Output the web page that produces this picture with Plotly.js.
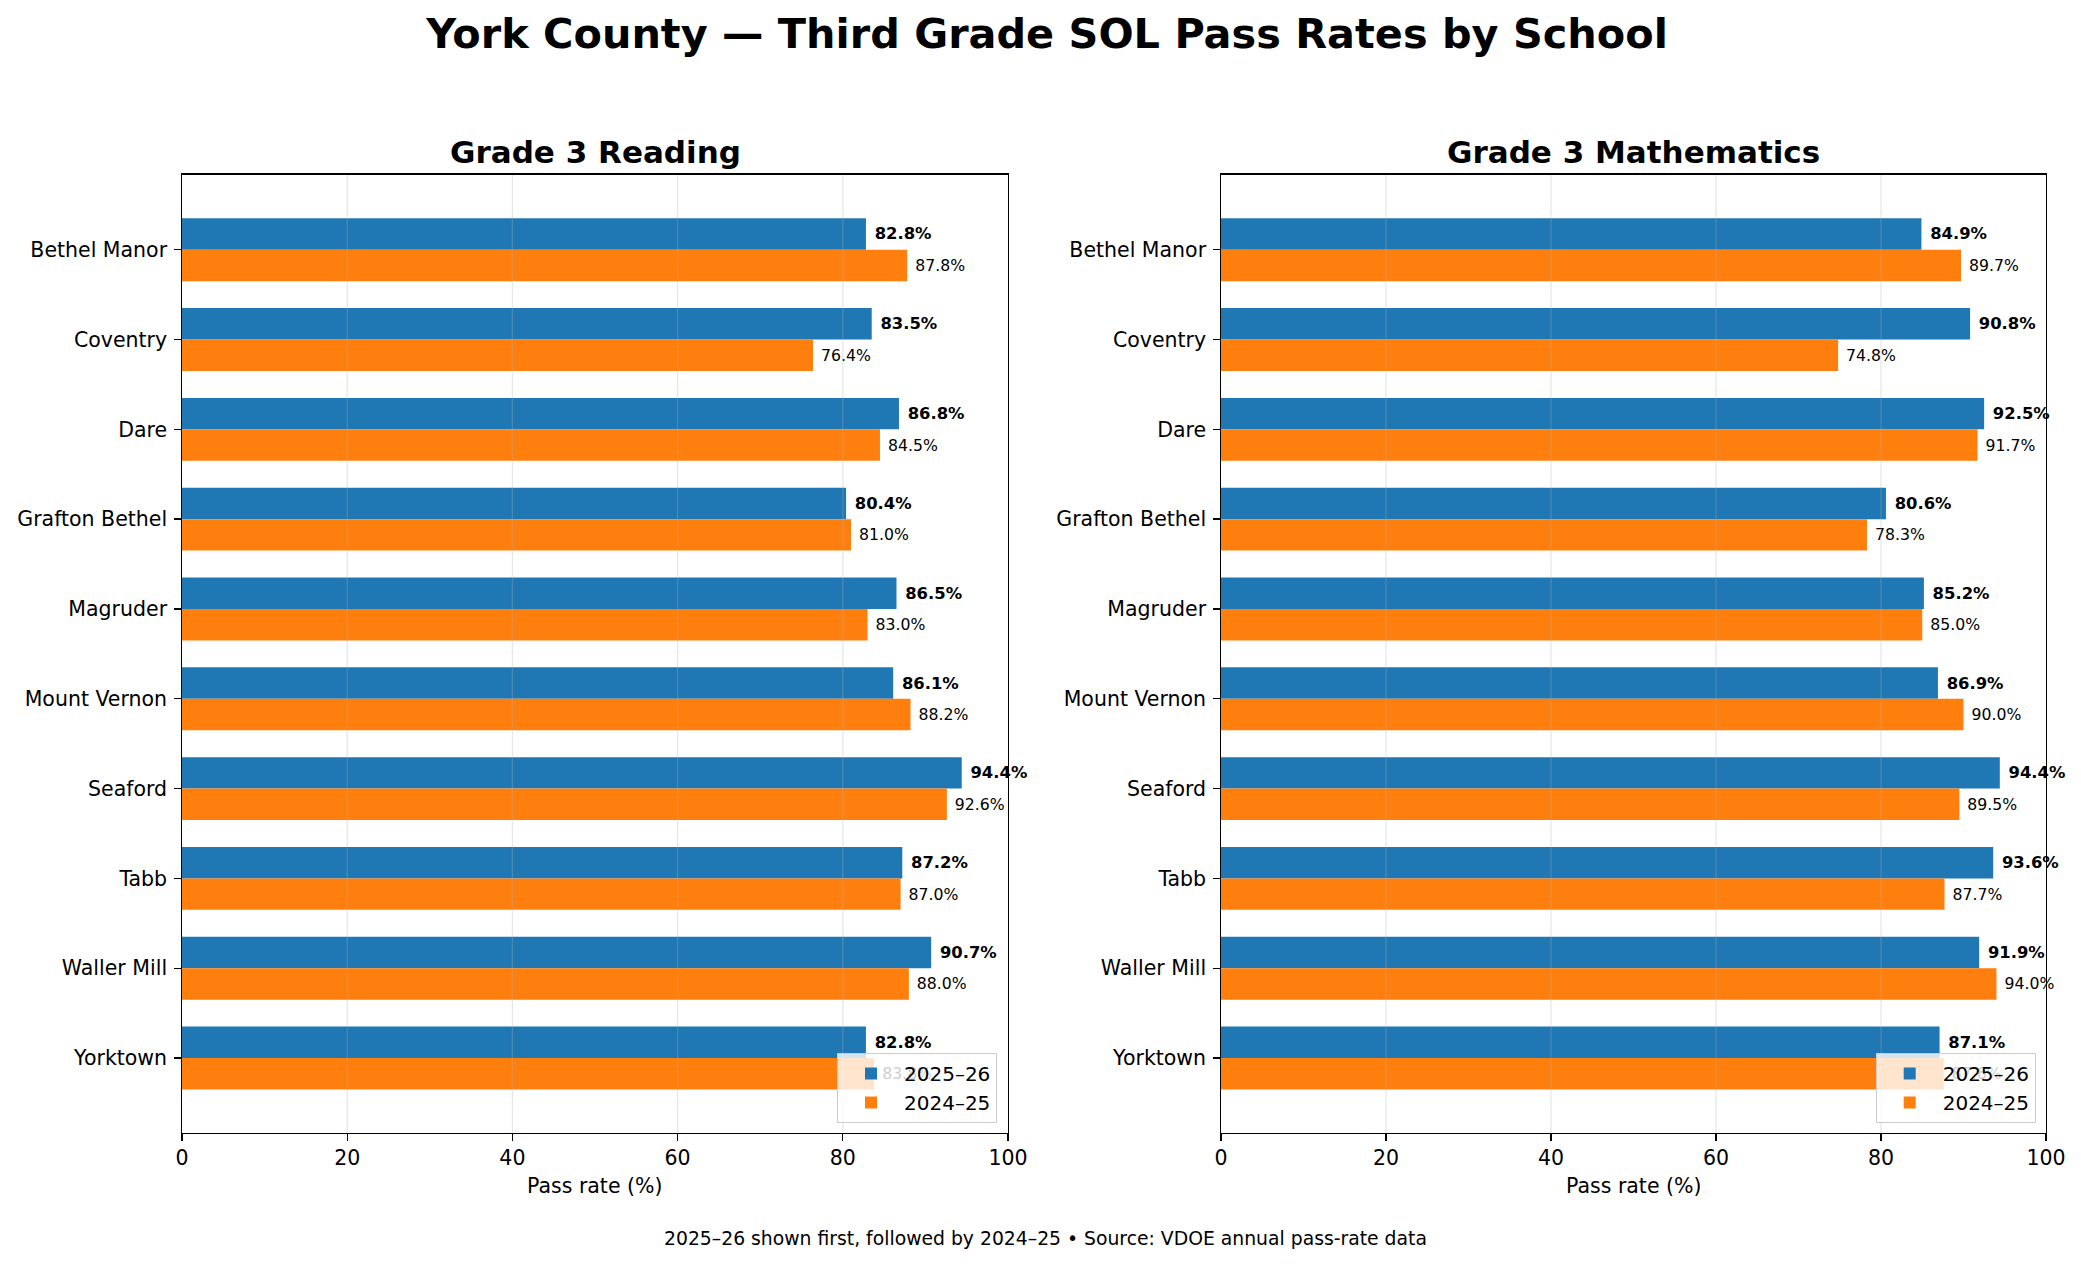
<!DOCTYPE html>
<html>
<head>
<meta charset="utf-8">
<script src="https://cdn.plot.ly/plotly-3.0.1.min.js"></script>
<style>
  html, body { margin: 0; padding: 0; background: #ffffff; }
  #chart { width: 2081px; height: 1264px; }
</style>
</head>
<body>
<div id="chart"></div>
<script>
// ---- Data ----
const schools = ["Bethel Manor", "Coventry", "Dare", "Grafton Bethel", "Magruder",
                 "Mount Vernon", "Seaford", "Tabb", "Waller Mill", "Yorktown"];
const seriesNames = ["2025\u201326", "2024\u201325"];
const reading2526 = [82.8, 83.5, 86.8, 80.4, 86.5, 86.1, 94.4, 87.2, 90.7, 82.8];
const reading2425 = [87.8, 76.4, 84.5, 81.0, 83.0, 88.2, 92.6, 87.0, 88.0, 83.8];
const math2526    = [84.9, 90.8, 92.5, 80.6, 85.2, 86.9, 94.4, 93.6, 91.9, 87.1];
const math2425    = [89.7, 74.8, 91.7, 78.3, 85.0, 90.0, 89.5, 87.7, 94.0, 87.6];
const xTicks = [0, 20, 40, 60, 80, 100];
const panelTitles = ["Grade 3 Reading", "Grade 3 Mathematics"];
const mainTitle = "York County \u2014 Third Grade SOL Pass Rates by School";
const footer = "2025\u201326 shown first, followed by 2024\u201325 \u2022 Source: VDOE annual pass-rate data";
const xTitle = "Pass rate (%)";

// ---- Styling ----
const W = 2081, H = 1264;
const FONT = "DejaVu Sans, Verdana, sans-serif";
const BLUE = "#1f77b4", ORANGE = "#ff7f0e";
const idx = schools.map((_, i) => i);
const BARW = 0.35;

function px(x) { return x / W; }
function py(y) { return 1 - y / H; }

const dom1 = [px(182), px(1008)];
const dom2 = [px(1221), px(2046)];
const ydom = [py(1133), py(174.7)];

function barTrace(vals, name, color, bold, xa, ya, legendId, offset) {
  return {
    type: "bar", orientation: "h",
    x: vals, y: idx, name: name,
    xaxis: xa, yaxis: ya, legend: legendId,
    width: BARW, offset: offset,
    marker: { color: color, line: { width: 0 } },
    texttemplate: "\u00A0%{x:.1f}%",
    textposition: "outside",
    textangle: 0,
    constraintext: "none",
    cliponaxis: false,
    textfont: { family: FONT, size: bold ? 16.4 : 15.7, color: "#000000", weight: bold ? "bold" : "normal" },
    hoverinfo: "skip"
  };
}

const data = [
  barTrace(reading2526, seriesNames[0], BLUE, true, "x", "y", "legend", -BARW),
  barTrace(reading2425, seriesNames[1], ORANGE, false, "x", "y", "legend", 0),
  barTrace(math2526, seriesNames[0], BLUE, true, "x2", "y2", "legend2", -BARW),
  barTrace(math2425, seriesNames[1], ORANGE, false, "x2", "y2", "legend2", 0)
];

function xAxis(domain, anchor) {
  return {
    domain: domain, anchor: anchor, range: [0, 100],
    tickvals: xTicks, ticktext: xTicks.map(String),
    ticks: "outside", ticklen: 6.5, tickwidth: 1.3, tickcolor: "#000",
    tickfont: { family: FONT, size: 20.5, color: "#000" },
    showline: true, mirror: true, linecolor: "#000", linewidth: 1.3,
    showgrid: false, zeroline: false, fixedrange: true
  };
}
function yAxis(anchor) {
  return {
    domain: ydom, anchor: anchor, range: [9.835, -0.835],
    tickvals: idx, ticktext: schools,
    ticks: "outside", ticklen: 6.5, tickwidth: 1.3, tickcolor: "#000",
    tickfont: { family: FONT, size: 20.5, color: "#000" },
    ticklabelstandoff: 3,
    showline: true, mirror: true, linecolor: "#000", linewidth: 1.3,
    showgrid: false, zeroline: false, fixedrange: true
  };
}

function legendCfg(rightPx) {
  return {
    x: px(rightPx), xanchor: "right", y: py(1123), yanchor: "bottom",
    bgcolor: "rgba(255,255,255,0.8)", bordercolor: "#cccccc", borderwidth: 1,
    font: { family: FONT, size: 20, color: "#000" },
    traceorder: "normal", itemwidth: 56
  };
}

// grid lines above bars (matplotlib style, alpha)
const shapes = [];
[["x", "y"], ["x2", "y2"]].forEach(([xa, ya]) => {
  xTicks.slice(1, -1).forEach(t => {
    shapes.push({
      type: "line", layer: "above", xref: xa, yref: ya + " domain",
      x0: t, x1: t, y0: 0, y1: 1,
      line: { color: "rgba(176,176,176,0.3)", width: 1.3 }
    });
  });
});

const annotations = [
  { text: "<b>" + panelTitles[0] + "</b>", xref: "paper", yref: "paper",
    x: (dom1[0] + dom1[1]) / 2, y: py(152), xanchor: "center", yanchor: "middle",
    showarrow: false, font: { family: FONT, size: 31, color: "#000" } },
  { text: "<b>" + panelTitles[1] + "</b>", xref: "paper", yref: "paper",
    x: (dom2[0] + dom2[1]) / 2, y: py(152), xanchor: "center", yanchor: "middle",
    showarrow: false, font: { family: FONT, size: 31, color: "#000" } },
  { text: xTitle, xref: "paper", yref: "paper",
    x: (dom1[0] + dom1[1]) / 2, y: py(1186), xanchor: "center", yanchor: "middle",
    showarrow: false, font: { family: FONT, size: 20.5, color: "#000" } },
  { text: xTitle, xref: "paper", yref: "paper",
    x: (dom2[0] + dom2[1]) / 2, y: py(1186), xanchor: "center", yanchor: "middle",
    showarrow: false, font: { family: FONT, size: 20.5, color: "#000" } },
  { text: footer, xref: "paper", yref: "paper",
    x: px(1045.5), y: py(1238), xanchor: "center", yanchor: "middle",
    showarrow: false, font: { family: FONT, size: 18.8, color: "#000" } }
];

const layout = {
  width: W, height: H,
  margin: { l: 0, r: 0, t: 0, b: 0, pad: 0 },
  paper_bgcolor: "#ffffff", plot_bgcolor: "#ffffff",
  font: { family: FONT, color: "#000" },
  title: {
    text: "<b>" + mainTitle + "</b>",
    x: px(1047), xanchor: "center", xref: "paper",
    y: py(34), yanchor: "middle", yref: "container",
    font: { family: FONT, size: 41.4, color: "#000" }
  },
  barmode: "overlay",
  xaxis: xAxis(dom1, "y"),
  yaxis: yAxis("x"),
  xaxis2: xAxis(dom2, "y2"),
  yaxis2: yAxis("x2"),
  showlegend: true,
  legend: legendCfg(997),
  legend2: legendCfg(2035.7),
  shapes: shapes,
  annotations: annotations
};

Plotly.newPlot("chart", data, layout, { staticPlot: true, displayModeBar: false });
</script>
</body>
</html>
